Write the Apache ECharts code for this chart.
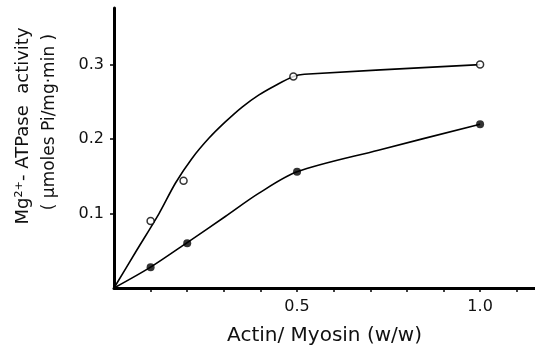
<!DOCTYPE html>
<html>
<head>
<meta charset="utf-8">
<script src="https://cdn.jsdelivr.net/npm/echarts@6/dist/echarts.min.js"></script>
<style>
  html, body { margin: 0; padding: 0; background: #fff; }
  #chart { width: 535px; height: 348px; }
</style>
</head>
<body>
<div id="chart"></div>
<script>
// actin / myosin ratio (w/w) and Mg2+-ATPase activity (umoles Pi/mg.min)
const openPoints = [[0.1, 0.09], [0.19, 0.144], [0.49, 0.284], [1.0, 0.30]]
const filledPoints = [[0.1, 0.028], [0.2, 0.06], [0.5, 0.156], [1.0, 0.22]]

// hand-drawn curves
const openCurve = [[0, 0], [0.06, 0.049], [0.123, 0.1], [0.168, 0.141], [0.213, 0.174], [0.259, 0.201],
  [0.304, 0.223], [0.35, 0.243], [0.395, 0.259], [0.441, 0.272], [0.49, 0.284], [0.52, 0.287], [1.0, 0.30]]
const filledCurve = [[0, 0], [0.1, 0.028], [0.2, 0.061], [0.304, 0.096], [0.395, 0.127], [0.5, 0.156],
  [0.722, 0.185], [1.0, 0.22]]

const xTicks = [0.1, 0.2, 0.3, 0.4, 0.5, 0.6, 0.7, 0.8, 0.9, 1.0, 1.1]
const xLabels = [0.5, 1.0]
const yTicks = [0.1, 0.2, 0.3]

const font = 'DejaVu Sans'
const chart = echarts.init(document.getElementById('chart'), undefined, { renderer: 'canvas' })

chart.setOption({
  animation: false,
  grid: { left: 114, right: 0, top: 8, bottom: 60, outerBoundsMode: 'none' },
  xAxis: {
    type: 'value',
    min: 0,
    max: 1.15,
    name: 'Actin/ Myosin (w/w)',
    nameLocation: 'middle',
    nameGap: 38,
    nameTextStyle: { color: '#111', fontFamily: font, fontSize: 20 },
    axisLine: { lineStyle: { color: '#000', width: 3 } },
    axisTick: { length: 4, lineStyle: { color: '#000', width: 1.5 }, customValues: xTicks },
    axisLabel: {
      color: '#111', fontFamily: font, fontSize: 16, margin: 11,
      customValues: xLabels,
      formatter: (v) => v.toFixed(1),
    },
    splitLine: { show: false },
  },
  yAxis: {
    type: 'value',
    min: 0,
    max: 0.376,
    axisLine: { lineStyle: { color: '#000', width: 3 } },
    axisTick: { length: 4, lineStyle: { color: '#000', width: 1.5 }, customValues: yTicks },
    axisLabel: {
      color: '#111', fontFamily: font, fontSize: 16, margin: 10,
      customValues: yTicks,
      formatter: (v) => v.toFixed(1),
    },
    splitLine: { show: false },
  },
  graphic: [
    {
      type: 'text',
      x: 23,
      y: 126,
      rotation: Math.PI / 2,
      style: {
        text: 'Mg\u00b2\u207a- ATPase  activity',
        fontFamily: font,
        fontSize: 18,
        fill: '#111',
        align: 'center',
        verticalAlign: 'middle',
      },
    },
    {
      type: 'text',
      x: 50,
      y: 122,
      rotation: Math.PI / 2,
      style: {
        text: '( \u03bcmoles Pi/mg\u00b7min )',
        fontFamily: font,
        fontSize: 17,
        fill: '#111',
        align: 'center',
        verticalAlign: 'middle',
      },
    },
  ],
  series: [
    {
      type: 'line',
      smooth: 0.3,
      showSymbol: false,
      lineStyle: { color: '#000', width: 1.6 },
      data: openCurve,
      z: 2,
    },
    {
      type: 'line',
      smooth: 0.3,
      showSymbol: false,
      lineStyle: { color: '#000', width: 1.6 },
      data: filledCurve,
      z: 2,
    },
    {
      type: 'scatter',
      symbol: 'circle',
      symbolSize: 7,
      itemStyle: { color: '#fff', borderColor: '#000', borderWidth: 1.5 },
      data: openPoints,
      z: 3,
    },
    {
      type: 'scatter',
      symbol: 'circle',
      symbolSize: 8,
      itemStyle: { color: '#000' },
      data: filledPoints,
      z: 3,
    },
  ],
})
</script>
</body>
</html>
